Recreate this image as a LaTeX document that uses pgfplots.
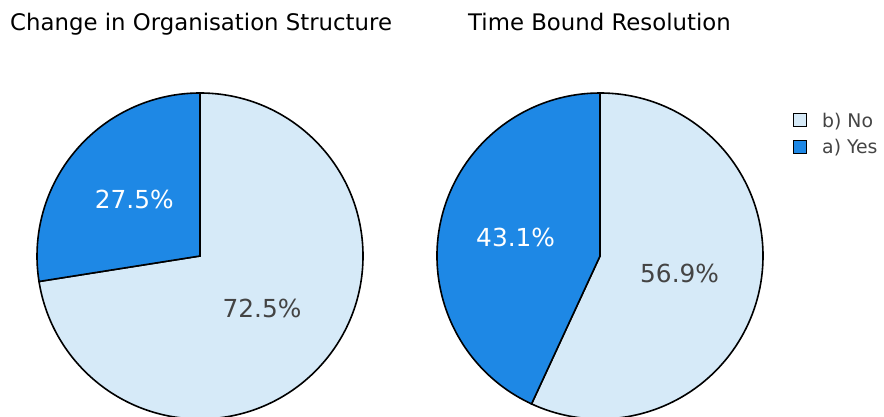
\documentclass[border=0pt]{standalone}
\usepackage{pgfplots}
\pgfplotsset{compat=1.18}
\usepackage{fontspec}
\setmainfont{DejaVu Sans}

\definecolor{yesblue}{RGB}{30,136,229}
\definecolor{nolight}{RGB}{214,234,248}
\definecolor{pietext}{RGB}{68,68,68}

% #1 = share "b) No", #2 = share "a) Yes" (percent); slices run clockwise from 12 o'clock
\newcommand{\pieslices}[2]{%
  \pgfmathsetmacro{\aEnd}{90-3.6*#1}
  \pgfmathsetmacro{\mNo}{90-1.8*#1}
  \pgfmathsetmacro{\mYes}{\aEnd-1.8*#2}
  \filldraw[fill=nolight, draw=black, line width=1.6bp]
    (axis cs:0,0) -- (axis cs:0,1) arc[start angle=90, end angle=\aEnd, radius=163bp] -- cycle;
  \filldraw[fill=yesblue, draw=black, line width=1.6bp]
    (axis cs:0,0) -- (axis cs:{cos(\aEnd)},{sin(\aEnd)}) arc[start angle=\aEnd, end angle=-270, radius=163bp] -- cycle;
  \node[text=pietext, font=\fontsize{24.9}{28}\selectfont]
    at (axis cs:{0.50*cos(\mNo)},{0.50*sin(\mNo)}) {#1\%};
  \node[text=white, font=\fontsize{24.9}{28}\selectfont]
    at (axis cs:{0.53*cos(\mYes)},{0.53*sin(\mYes)}) {#2\%};
}

\pgfplotsset{pieaxis/.style={
  hide axis, scale only axis, width=326bp, height=326bp,
  xmin=-1, xmax=1, ymin=-1, ymax=1, clip=false, anchor=center}}

\begin{document}
\begin{tikzpicture}[x=1bp, y=1bp]
  \useasboundingbox (0,0) rectangle (884,416);
  \clip (0,0) rectangle (884,416);
  \fill[white] (0,0) rectangle (884,416);

  \begin{axis}[pieaxis, at={(200bp,160bp)}]
    \pieslices{72.5}{27.5}
  \end{axis}
  \begin{axis}[pieaxis, at={(600bp,160bp)}]
    \pieslices{56.9}{43.1}
  \end{axis}

  \node[anchor=base west, inner sep=0pt, font=\fontsize{22.9}{26}\selectfont]
    at (10,386) {Change in Organisation Structure};
  \node[anchor=base west, inner sep=0pt, font=\fontsize{22.9}{26}\selectfont]
    at (468,386) {Time Bound Resolution};

  % legend
  \filldraw[fill=nolight, draw=black, line width=1.8bp] (793.5,289.5) rectangle (806.5,302.5);
  \filldraw[fill=yesblue, draw=black, line width=1.8bp] (793.5,262.5) rectangle (806.5,275.5);
  \node[anchor=base west, inner sep=0pt, text=pietext, font=\fontsize{18.9}{22}\selectfont]
    at (822,289) {b) No};
  \node[anchor=base west, inner sep=0pt, text=pietext, font=\fontsize{18.9}{22}\selectfont]
    at (822,263) {a) Yes};
\end{tikzpicture}
\end{document}
